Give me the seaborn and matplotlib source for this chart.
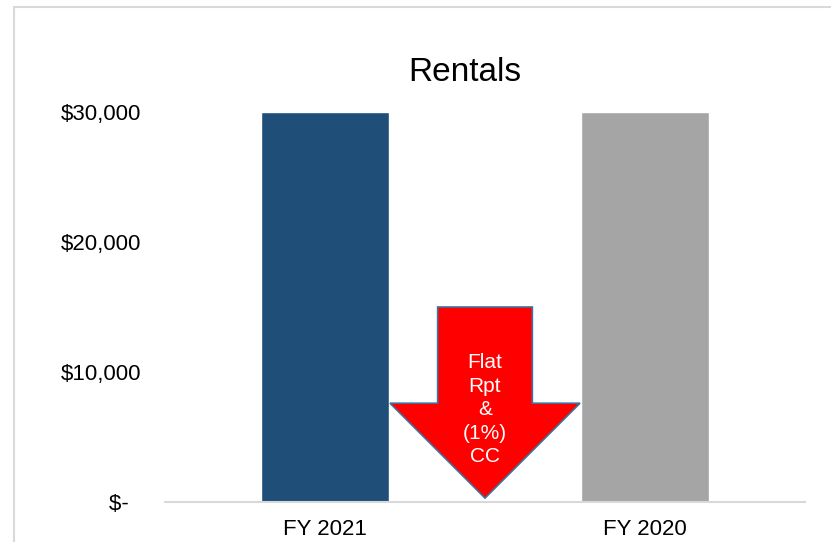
import matplotlib
matplotlib.use("Agg")
import matplotlib.pyplot as plt
import seaborn as sns
import pandas as pd
from matplotlib.patches import Polygon, Rectangle

categories = ["FY 2021", "FY 2020"]
values = [30000, 30000]
bar_colors = ["#1F4E79", "#A5A5A5"]
y_ticks = [0, 10000, 20000, 30000]
y_tick_labels = ["$-  ", "$10,000", "$20,000", "$30,000"]
title = "Rentals"
arrow_text = "Flat\nRpt\n&\n(1%)\nCC"
# arrow geometry in data units
arrow_top = 15000
arrow_head_base = 7600
arrow_tip = 300
arrow_center = 0.5
arrow_shaft_half = 0.148
arrow_head_half = 0.297
arrow_text_y = 7100

sns.set_theme(style="white")
plt.rcParams["font.family"] = ["Liberation Sans", "DejaVu Sans"]

df = pd.DataFrame({"cat": categories, "val": values})

fig = plt.figure(figsize=(8.31, 5.42), dpi=100)
fig.patches.append(Rectangle((14 / 831, -0.2), 1.2, 1.2 - 7 / 542, transform=fig.transFigure,
                             fill=False, edgecolor="#D9D9D9", linewidth=1.5))
ax = fig.add_axes([165 / 831, 40 / 542, 640 / 831, 390 / 542])

sns.barplot(data=df, x="cat", y="val", hue="cat", palette=bar_colors, width=0.4,
            legend=False, ax=ax, saturation=1)

ax.set_xlim(-0.5, 1.5)
ax.set_ylim(0, 30000)
ax.set_yticks(y_ticks)
ax.set_yticklabels(y_tick_labels)
ax.tick_params(axis="y", length=0, pad=17, labelsize=16, colors="black")
ax.tick_params(axis="x", length=0, pad=12, labelsize=16, colors="black")
ax.set_xlabel("")
ax.set_ylabel("")
for s in ["top", "right", "left"]:
    ax.spines[s].set_visible(False)
ax.spines["bottom"].set_color("#D9D9D9")
ax.spines["bottom"].set_linewidth(1.5)
ax.set_title(title, fontsize=24, pad=22, color="black", x=(465 - 165) / 640)

c = arrow_center
pts = [(c - arrow_shaft_half, arrow_top), (c + arrow_shaft_half, arrow_top),
       (c + arrow_shaft_half, arrow_head_base), (c + arrow_head_half, arrow_head_base),
       (c, arrow_tip), (c - arrow_head_half, arrow_head_base),
       (c - arrow_shaft_half, arrow_head_base)]
ax.add_patch(Polygon(pts, closed=True, facecolor="#FF0000", edgecolor="#41719C",
                     linewidth=1.2, zorder=5, clip_on=False))
ax.text(c, arrow_text_y, arrow_text, ha="center", va="center", color="white", fontsize=15,
        linespacing=1.3, zorder=6)

fig.savefig("out.png", dpi=100)
